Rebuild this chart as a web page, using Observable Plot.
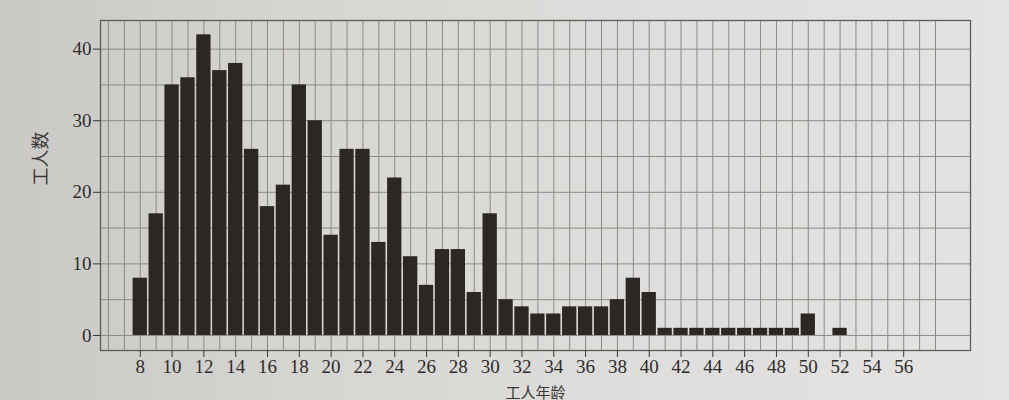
<!DOCTYPE html>
<html>
<head>
<meta charset="utf-8">
<script src="https://cdn.jsdelivr.net/npm/d3@7"></script>
<script src="https://cdn.jsdelivr.net/npm/@observablehq/plot@0.6"></script>
<style>
  html, body { margin: 0; padding: 0; }
  body { width: 1009px; height: 400px; overflow: hidden;
         background: linear-gradient(90deg, #cac8c5 0%, #d7d5d2 30%, #dfdedc 65%, #e4e3e1 100%); }
</style>
</head>
<body>
<div id="chart"></div>
<script>
const ages   = [8, 9, 10, 11, 12, 13, 14, 15, 16, 17, 18, 19, 20, 21, 22, 23, 24, 25, 26, 27, 28, 29, 30,
                31, 32, 33, 34, 35, 36, 37, 38, 39, 40, 41, 42, 43, 44, 45, 46, 47, 48, 49, 50, 51, 52];
const counts = [8, 17, 35, 36, 42, 37, 38, 26, 18, 21, 35, 30, 14, 26, 26, 13, 22, 11, 7, 12, 12, 6, 17,
                5, 4, 3, 3, 4, 4, 4, 5, 8, 6, 1, 1, 1, 1, 1, 1, 1, 1, 1, 3, 0, 1];
const xTicks = [8, 10, 12, 14, 16, 18, 20, 22, 24, 26, 28, 30, 32, 34, 36, 38, 40, 42, 44, 46, 48, 50, 52, 54, 56];
const yTicks = [0, 10, 20, 30, 40];
const yGrid  = [0, 5, 10, 15, 20, 25, 30, 35, 40];
const xGrid  = d3.range(6, 59);
const yTitle = "工人数";
const xTitle = "工人年龄";

const data = ages.map((a, i) => ({age: a, count: counts[i]})).filter(d => d.count > 0);
const serif = "Liberation Serif";
const cjk = "Noto Sans CJK SC";

const chart = Plot.plot({
  width: 1009,
  height: 400,
  marginLeft: 100,
  marginRight: 39,
  marginTop: 20,
  marginBottom: 50,
  style: {background: "transparent", fontFamily: serif, color: "#2e2c2a"},
  x: {domain: [5.5, 60.2]},
  y: {domain: [-2.1, 44]},
  marks: [
    Plot.ruleX(xGrid, {stroke: "#8c8a87", strokeWidth: 1}),
    Plot.ruleY(yGrid, {stroke: "#8c8a87", strokeWidth: 1}),
    Plot.rectY(data, {
      x1: d => d.age - 0.5, x2: d => d.age + 0.5, y1: 0, y2: "count",
      fill: "#2b2725", insetLeft: 0.8, insetRight: 0.8
    }),
    Plot.frame({stroke: "#5e5c5a", strokeWidth: 1.3}),
    Plot.axisX(xTicks, {tickSize: 7, tickPadding: 2, fontSize: 19, fontFamily: serif, label: null, stroke: "#3a3836", fill: "#2e2c2a"}),
    Plot.axisY(yTicks, {tickSize: 7, tickPadding: 2, fontSize: 19, fontFamily: serif, label: null, stroke: "#3a3836", fill: "#2e2c2a"}),
    Plot.text([yTitle], {text: d => d, frameAnchor: "left", dx: -59, rotate: -90,
      fontSize: 18, fontFamily: cjk, fill: "#3a3836"}),
    Plot.text([xTitle], {text: d => d, frameAnchor: "bottom", dy: 47, lineAnchor: "bottom",
      fontSize: 15, fontFamily: cjk, fill: "#3a3836"})
  ]
});
document.getElementById("chart").appendChild(chart);
</script>
</body>
</html>
